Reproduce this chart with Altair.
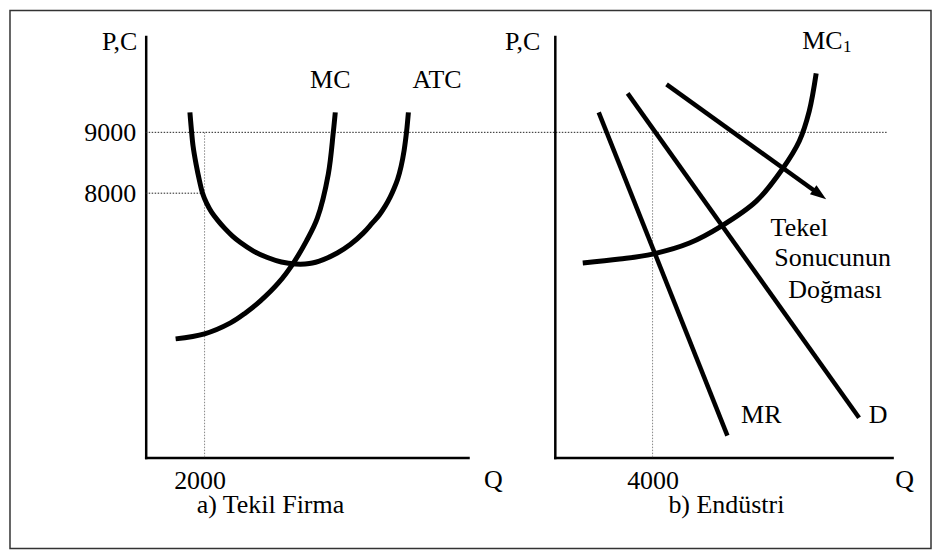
import math
import altair as alt
import pandas as pd

FONT = "Liberation Serif, Times New Roman, serif"

# ---------------- data ----------------
# shared price axis
P_DOMAIN = [3656, 10574]
P_TICKS = [8000, 9000]

# panel a) Tekil Firma
QA_DOMAIN = [0, 10950]
QA_TICK = [2000]
mc_q = [1017, 2000, 2881, 3390, 3898, 4508, 5017, 5458, 5831, 6203, 6373, 6441]
mc_p = [5607, 5689, 5869, 6033, 6230, 6525, 6853, 7213, 7590, 8312, 9000, 9328]
atc_q = [1502, 1542, 1610, 1712, 1831, 1932, 2068, 2237, 2441, 2678, 2949, 3220,
         3661, 4136, 4610, 5085, 5559, 6034, 6508, 6949, 7390, 7695, 7932, 8136,
         8305, 8441, 8559, 8678, 8780, 8864, 8925]
atc_p = [9328, 9099, 8771, 8476, 8197, 8000, 7836, 7689, 7558, 7426, 7295, 7189,
         7049, 6943, 6869, 6836, 6844, 6910, 7017, 7156, 7344, 7508, 7640, 7787,
         7935, 8082, 8230, 8443, 8705, 9017, 9328]
a_labels = ["MC", "ATC", "a) Tekil Firma"]
a_label_q = [6271, 9898, 4237]
a_label_p = [9722, 9722, 2738]
# guide lines: (q1, q2, p1, p2)
a_guides_h = [(0, 25186, 9000, 9000), (0, 2000, 8000, 8000)]
a_guides_v = [(2000, 2000, 9000, 3656)]

# panel b) Endüstri
QB_DOMAIN = [0, 13800]
QB_TICK = [4000]
mc1_q = [1143, 2653, 4000, 5510, 6816, 8245, 9306, 10000, 10408, 10694]
mc1_p = [6853, 6918, 7000, 7181, 7459, 7869, 8394, 8853, 9344, 9967]
mr_q = [1796, 7061]
mr_p = [9328, 4017]
d_q = [2980, 12449]
d_p = [9640, 4312]
shift_q = [4571, 10837]
shift_p = [9787, 7979]
b_labels = ["Tekel", "Sonucunun", "Doğması", "MR", "D", "b) Endüstri"]
b_label_q = [10000, 11367, 11469, 8449, 13224, 7020]
b_label_p = [7295, 6804, 6279, 4230, 4230, 2738]
b_sub_labels = ["MC", "1"]
b_sub_q = [10122, 11796]
b_sub_p = [10361, 10312]
b_sub_size = [26, 17]
b_guides_v = [(4000, 4000, 9000, 3656)]

# ---------------- helpers ----------------
def curves(named):
    rows = []
    for name, qs, ps in named:
        for i, (q, p) in enumerate(zip(qs, ps)):
            rows.append({"curve": name, "q": q, "p": p, "i": i})
    return pd.DataFrame(rows)


def guides(items):
    return pd.DataFrame([{"q": a, "q2": b, "p": c, "p2": d} for a, b, c, d in items])


def x_enc(domain, tick, title_x, label_offset):
    return alt.X(
        "q:Q",
        scale=alt.Scale(domain=domain, nice=False, zero=False),
        axis=alt.Axis(
            values=tick, format="d", title="Q", titleX=title_x, titleY=30,
            titleAlign="center", titleBaseline="alphabetic", titleFont=FONT,
            titleFontSize=26, titleFontWeight="normal", titleColor="black",
            labelFont=FONT, labelFontSize=26, labelColor="black", labelPadding=9.5,
            labelOffset=label_offset, labelFlush=False, labelOverlap=False,
            ticks=False, tickSize=0, grid=False, domainColor="black",
            domainWidth=2.5, domainCap="square",
        ),
    )


def y_enc(labels, title_x):
    return alt.Y(
        "p:Q",
        scale=alt.Scale(domain=P_DOMAIN, nice=False, zero=False),
        axis=alt.Axis(
            values=P_TICKS, format="d", labels=labels, title="P,C", titleAngle=0,
            titleX=title_x, titleY=13, titleAlign="right", titleBaseline="alphabetic",
            titleFont=FONT, titleFontSize=26, titleFontWeight="normal",
            titleColor="black", labelFont=FONT, labelFontSize=26, labelColor="black",
            labelPadding=10, labelBaseline="middle", labelFlush=False,
            labelOverlap=False, ticks=False, tickSize=0, grid=False,
            domainColor="black", domainWidth=2.5, domainCap="square",
        ),
    )


W_A, W_B, H = 323, 338, 422

# ---------------- panel a ----------------
xa = x_enc(QA_DOMAIN, QA_TICK, 348, -5)
ya = y_enc(True, -9)

a_h = alt.Chart(guides(a_guides_h)).mark_rule(
    color="#222", strokeWidth=1, strokeDash=[1.5, 1.5]
).encode(x=xa, x2="q2:Q", y=ya, y2="p2:Q")
a_v = alt.Chart(guides(a_guides_v)).mark_rule(
    color="#888", strokeWidth=1, strokeDash=[1.5, 1.5]
).encode(x=xa, x2="q2:Q", y=ya, y2="p2:Q")
a_lines = alt.Chart(curves([("MC", mc_q, mc_p), ("ATC", atc_q, atc_p)])).mark_line(
    color="black", strokeWidth=5, interpolate="catmull-rom"
).encode(x=xa, y=ya, detail="curve:N", order="i:Q")
a_text = alt.Chart(pd.DataFrame({"label": a_labels, "q": a_label_q, "p": a_label_p})).mark_text(
    font=FONT, fontSize=26, baseline="alphabetic", align="center", color="black"
).encode(x=xa, y=ya, text="label:N")
frame = alt.Chart(pd.DataFrame({"f": [0]})).mark_rect(
    fill="transparent", stroke="#333", strokeWidth=1.5
).encode(x=alt.value(-136), x2=alt.value(787), y=alt.value(-26), y2=alt.value(513))

panel_a = alt.layer(frame, a_h, a_v, a_lines, a_text).properties(width=W_A, height=H)

# ---------------- panel b ----------------
xb = x_enc(QB_DOMAIN, QB_TICK, 350, 0)
yb = y_enc(False, -15)

b_v = alt.Chart(guides(b_guides_v)).mark_rule(
    color="#888", strokeWidth=1, strokeDash=[1.5, 1.5]
).encode(x=xb, x2="q2:Q", y=yb, y2="p2:Q")
b_curve = alt.Chart(curves([("MC1", mc1_q, mc1_p)])).mark_line(
    color="black", strokeWidth=5, interpolate="catmull-rom"
).encode(x=xb, y=yb, detail="curve:N", order="i:Q")
b_straight = alt.Chart(curves([("MR", mr_q, mr_p), ("D", d_q, d_p), ("shift", shift_q, shift_p)])).mark_line(
    color="black", strokeWidth=4.5
).encode(x=xb, y=yb, detail="curve:N", order="i:Q")
b_head = alt.Chart(pd.DataFrame({"q": [shift_q[-1]], "p": [shift_p[-1]]})).mark_point(
    shape="M0,-1L0.7,1L-0.7,1Z", filled=True, color="black", opacity=1, size=256,
    angle=90 + math.degrees(math.atan2(115, 160)),
).encode(x=xb, y=yb)
b_text = alt.Chart(pd.DataFrame({"label": b_labels, "q": b_label_q, "p": b_label_p})).mark_text(
    font=FONT, fontSize=26, baseline="alphabetic", align="center", color="black"
).encode(x=xb, y=yb, text="label:N")
b_sub = alt.Chart(pd.DataFrame({"label": b_sub_labels, "q": b_sub_q, "p": b_sub_p, "s": b_sub_size})).mark_text(
    font=FONT, baseline="alphabetic", align="left", color="black"
).encode(x=xb, y=yb, text="label:N", size=alt.Size("s:Q", scale=None, legend=None))

panel_b = alt.layer(b_v, b_curve, b_straight, b_head, b_text, b_sub).properties(width=W_B, height=H)

chart = (
    alt.hconcat(panel_a, panel_b, spacing=87, bounds="flush")
    .properties(padding=0, background="white")
    .configure_view(stroke="transparent")
)

chart.save("out.html", embed_options={"renderer": "svg", "actions": False})
